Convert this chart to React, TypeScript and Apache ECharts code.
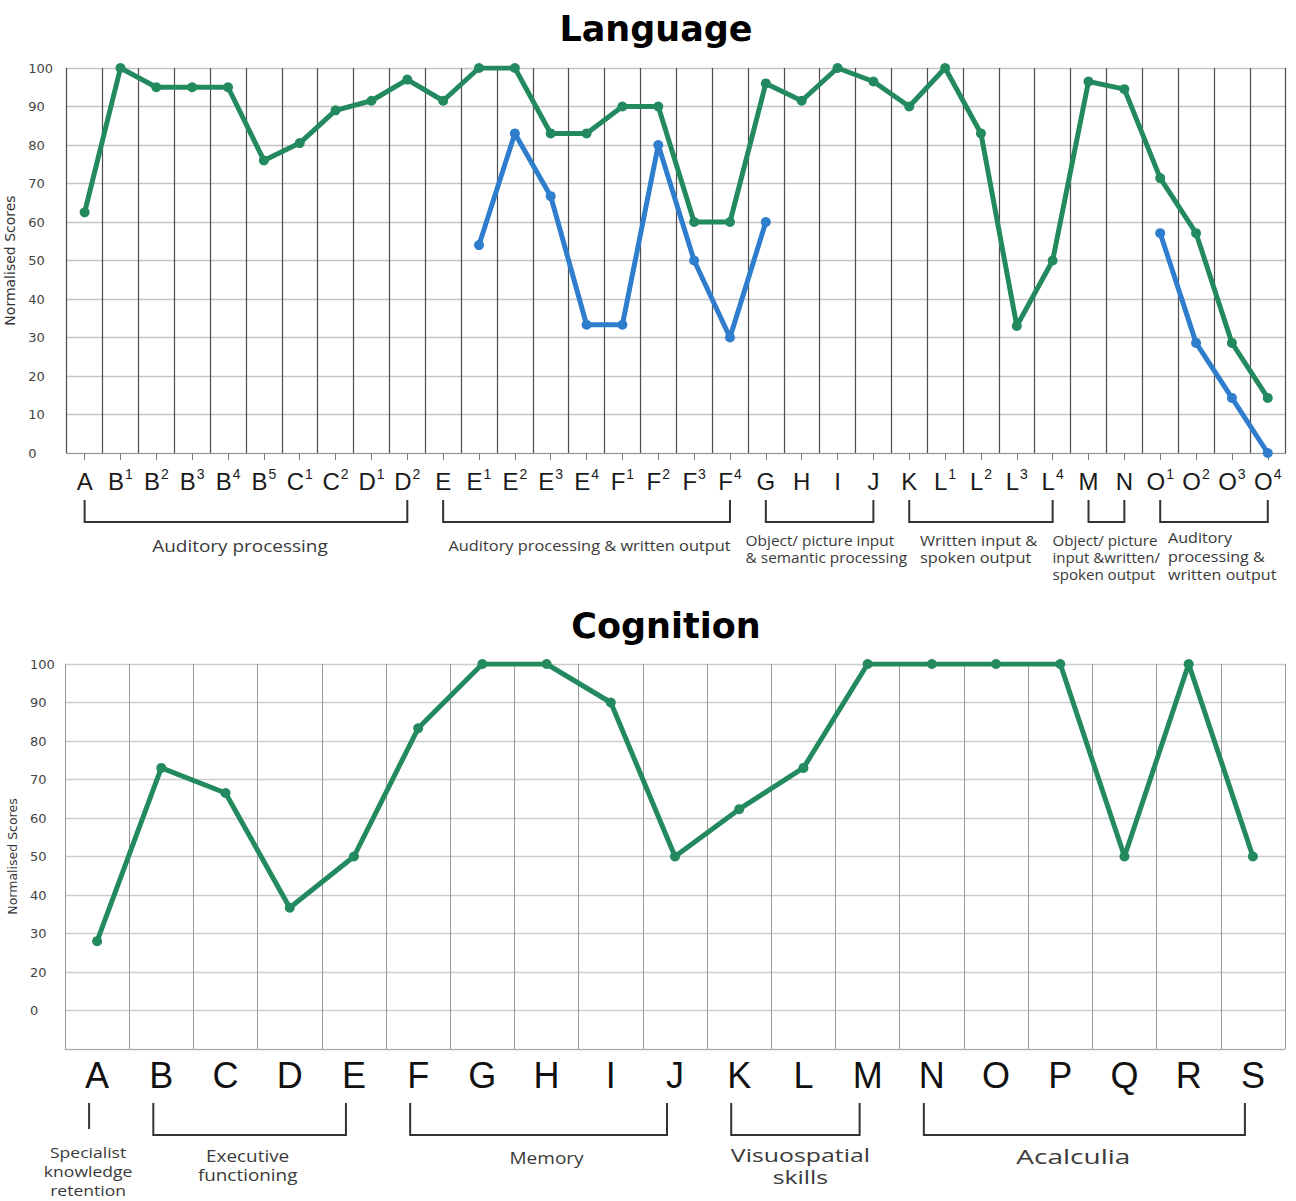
import React, { useEffect, useRef } from "react";
import * as echarts from "echarts";

// ---------- Language chart data ----------
const languageCategories = [
  "A", "B1", "B2", "B3", "B4", "B5", "C1", "C2", "D1", "D2",
  "E", "E1", "E2", "E3", "E4", "F1", "F2", "F3", "F4",
  "G", "H", "I", "J", "K", "L1", "L2", "L3", "L4", "M", "N",
  "O1", "O2", "O3", "O4",
];
const languageGreen = [
  62.5, 100, 95, 95, 95, 76, 80.5, 89, 91.5, 97,
  91.5, 100, 100, 83, 83, 90, 90, 60, 60,
  96, 91.5, 100, 96.5, 90, 100, 83, 33, 50, 96.5, 94.5,
  71.4, 57.1, 28.6, 14.3,
];
const languageBlue = [
  null, null, null, null, null, null, null, null, null, null,
  null, 54, 83, 66.7, 33.3, 33.3, 80, 50, 30,
  60, null, null, null, null, null, null, null, null, null, null,
  57.1, 28.6, 14.3, 0,
];
const languageGroupFrom = ["A", "E", "G", "K", "M", "O1"];
const languageGroupTo = ["D2", "F4", "J", "L4", "N", "O4"];
const languageGroupLabels = [
  "Auditory processing",
  "Auditory processing & written output",
  "Object/ picture input\n& semantic processing",
  "Written input &\nspoken output",
  "Object/ picture\ninput &written/\nspoken output",
  "Auditory\nprocessing &\nwritten output",
];

// ---------- Cognition chart data ----------
const cognitionCategories = [
  "A", "B", "C", "D", "E", "F", "G", "H", "I", "J",
  "K", "L", "M", "N", "O", "P", "Q", "R", "S",
];
const cognitionGreen = [
  28, 73, 66.5, 36.7, 50, 83.3, 100, 100, 90, 50,
  62.3, 73, 100, 100, 100, 100, 50, 100, 50,
];
const cognitionTickValues = [0, 10, 20, 30, 40, 50, 60, 70, 80, 90, 100];
const cognitionTickLabels = ["", "0", "20", "30", "40", "50", "60", "70", "80", "90", "100"];
const cognitionGroupFrom = ["A", "B", "F", "K", "N"];
const cognitionGroupTo = ["A", "E", "J", "M", "S"];
const cognitionGroupLabels = [
  "Specialist\nknowledge\nretention",
  "Executive\nfunctioning",
  "Memory",
  "Visuospatial\nskills",
  "Acalculia",
];

// ---------- layout / styles (not data) ----------
const GREEN = "#238a5f";
const BLUE = "#2f7dcd";
const LABEL_FONT = "'Open Sans', 'Noto Sans', sans-serif";

const languageLabelLayout = [
  { align: "center", dx: -6, top: 535, size: 16.5, lh: 20, sx: 1.15 },
  { align: "center", dx: 3, top: 537, size: 14, lh: 17, sx: 1.17 },
  { align: "left", dx: -74, top: 532, size: 14, lh: 17, sx: 1.1 },
  { align: "left", dx: -61, top: 532, size: 14, lh: 17, sx: 1.17 },
  { align: "left", dx: -54, top: 532, size: 14, lh: 17, sx: 1.08 },
  { align: "left", dx: -46, top: 528.5, size: 14, lh: 18.5, sx: 1.15 },
];
const cognitionLabelLayout = [
  { align: "center", dx: -9, top: 1143, size: 15, lh: 19, sx: 1.17 },
  { align: "center", dx: -10, top: 1145.5, size: 16, lh: 19.5, sx: 1.18 },
  { align: "center", dx: 0, top: 1147, size: 17, lh: 20, sx: 1.12 },
  { align: "center", dx: -3, top: 1143.5, size: 18, lh: 22, sx: 1.38 },
  { align: "center", dx: -19, top: 1144.5, size: 20, lh: 24, sx: 1.4 },
];

function supFormatter(v: string) {
  const m = v.match(/^([A-Z])(\d?)$/);
  if (!m) return v;
  return m[2] ? `{b|${m[1]}}{s|${m[2]}}` : `{b|${m[1]}}`;
}

function buildGraphics(chart: any) {
  const els: any[] = [];
  const addGroups = (
    axisIndex: number,
    cats: string[],
    from: string[],
    to: string[],
    labels: string[],
    layout: any[],
    yTop: number,
    yBot: number,
    bracketShift: number
  ) => {
    from.forEach((f, i) => {
      const x1 = chart.convertToPixel({ xAxisIndex: axisIndex }, cats.indexOf(f));
      const x2 = chart.convertToPixel({ xAxisIndex: axisIndex }, cats.indexOf(to[i]));
      const bx1 = x1 + bracketShift;
      const bx2 = x2 + bracketShift;
      if (f === to[i]) {
        els.push({
          type: "line",
          shape: { x1: bx1, y1: yTop, x2: bx1, y2: yBot - 6 },
          style: { stroke: "#333", lineWidth: 2 },
        });
      } else {
        els.push({
          type: "polyline",
          shape: { points: [[bx1, yTop], [bx1, yBot], [bx2, yBot], [bx2, yTop]] },
          style: { stroke: "#333", lineWidth: 2, fill: null },
        });
      }
      const L = layout[i];
      const cx = (x1 + x2) / 2 + L.dx;
      els.push({
        type: "text",
        x: cx,
        y: L.top,
        scaleX: L.sx,
        style: {
          text: labels[i],
          fill: "#3a3a3a",
          fontSize: L.size,
          fontFamily: LABEL_FONT,
          lineHeight: L.lh,
          align: L.align,
          verticalAlign: "top",
        },
      });
    });
  };
  addGroups(0, languageCategories, languageGroupFrom, languageGroupTo, languageGroupLabels,
    languageLabelLayout, 500, 522, 0);
  addGroups(1, cognitionCategories, cognitionGroupFrom, cognitionGroupTo, cognitionGroupLabels,
    cognitionLabelLayout, 1103, 1135, -8);
  return els;
}

export default function App() {
  const ref = useRef<HTMLDivElement>(null);
  useEffect(() => {
    document.body.style.margin = "0";
    const chart = echarts.init(ref.current!, null, { renderer: "svg" });
    const yAxisBase = {
      type: "value",
      min: 0,
      max: 100,
      interval: 10,
      axisLine: { show: false },
      axisTick: { show: false },
      name: "Normalised Scores",
      nameLocation: "middle",
      nameRotate: 90,
      nameTextStyle: { fontFamily: "DejaVu Sans", color: "#333" },
    };
    const option: any = {
      animation: false,
      backgroundColor: "#ffffff",
      title: [
        {
          text: "Language",
          left: 651,
          top: 6,
          textAlign: "center",
          textStyle: { fontFamily: "DejaVu Sans", fontWeight: "bold", fontSize: 35, color: "#000" },
        },
        {
          text: "Cognition",
          left: 661,
          top: 603,
          textAlign: "center",
          textStyle: { fontFamily: "DejaVu Sans", fontWeight: "bold", fontSize: 35, color: "#000" },
        },
      ],
      grid: [
        { left: 66.7, top: 68, width: 1219, height: 385, outerBoundsMode: "none", containLabel: false },
        { left: 65, top: 664, width: 1220, height: 385, outerBoundsMode: "none", containLabel: false },
      ],
      xAxis: [
        {
          type: "category",
          gridIndex: 0,
          data: languageCategories,
          boundaryGap: true,
          axisLine: { show: true, lineStyle: { color: "#999", width: 1 } },
          axisTick: { show: true, alignWithLabel: true, interval: 0, length: 7, lineStyle: { color: "#777" } },
          splitLine: { show: true, interval: 0, lineStyle: { color: "#4d4d4d", width: 1.2 } },
          axisLabel: {
            interval: 0,
            margin: 14,
            formatter: supFormatter,
            rich: {
              b: { fontSize: 24, fontFamily: "Liberation Sans", color: "#1a1a1a", lineHeight: 28 },
              s: { fontSize: 14, fontFamily: "Liberation Sans", color: "#1a1a1a", verticalAlign: "top", padding: [0, 0, 0, 1] },
            },
          },
        },
        {
          type: "category",
          gridIndex: 1,
          data: cognitionCategories,
          boundaryGap: true,
          axisLine: { show: true, lineStyle: { color: "#aaa", width: 1 } },
          axisTick: { show: false },
          splitLine: { show: true, interval: 0, lineStyle: { color: "#999", width: 1 } },
          axisLabel: {
            interval: 0,
            margin: 8,
            fontSize: 36,
            fontFamily: "Liberation Sans",
            color: "#111",
          },
        },
      ],
      yAxis: [
        {
          ...yAxisBase,
          gridIndex: 0,
          nameGap: 50,
          nameTextStyle: { ...yAxisBase.nameTextStyle, fontSize: 14 },
          axisLabel: { fontSize: 13, fontFamily: "DejaVu Sans", color: "#444", margin: 38.5, align: "left" },
          splitLine: { show: true, lineStyle: { color: "#c4c4c4", width: 1.3 } },
        },
        {
          ...yAxisBase,
          gridIndex: 1,
          nameGap: 45,
          nameTextStyle: { ...yAxisBase.nameTextStyle, fontSize: 12.5 },
          axisLabel: {
            fontSize: 13,
            fontFamily: "DejaVu Sans",
            color: "#444",
            margin: 35,
            align: "left",
            formatter: (v: number) => {
              const i = cognitionTickValues.indexOf(v);
              return i >= 0 ? cognitionTickLabels[i] : "";
            },
          },
          splitLine: { show: true, lineStyle: { color: "#cccccc", width: 1.3 } },
        },
      ],
      series: [
        {
          name: "Language (green)",
          type: "line",
          xAxisIndex: 0,
          yAxisIndex: 0,
          data: languageGreen,
          symbol: "circle",
          symbolSize: 10,
          lineStyle: { color: GREEN, width: 5 },
          itemStyle: { color: GREEN },
          z: 3,
        },
        {
          name: "Language (blue)",
          type: "line",
          xAxisIndex: 0,
          yAxisIndex: 0,
          data: languageBlue,
          connectNulls: false,
          symbol: "circle",
          symbolSize: 10,
          lineStyle: { color: BLUE, width: 5 },
          itemStyle: { color: BLUE },
          z: 4,
        },
        {
          name: "Cognition",
          type: "line",
          xAxisIndex: 1,
          yAxisIndex: 1,
          data: cognitionGreen,
          symbol: "circle",
          symbolSize: 10,
          lineStyle: { color: GREEN, width: 5 },
          itemStyle: { color: GREEN },
          z: 3,
        },
      ],
    };
    chart.setOption(option);
    chart.setOption({ graphic: buildGraphics(chart) });
    return () => chart.dispose();
  }, []);
  return <div ref={ref} style={{ width: 1296, height: 1201 }} />;
}
